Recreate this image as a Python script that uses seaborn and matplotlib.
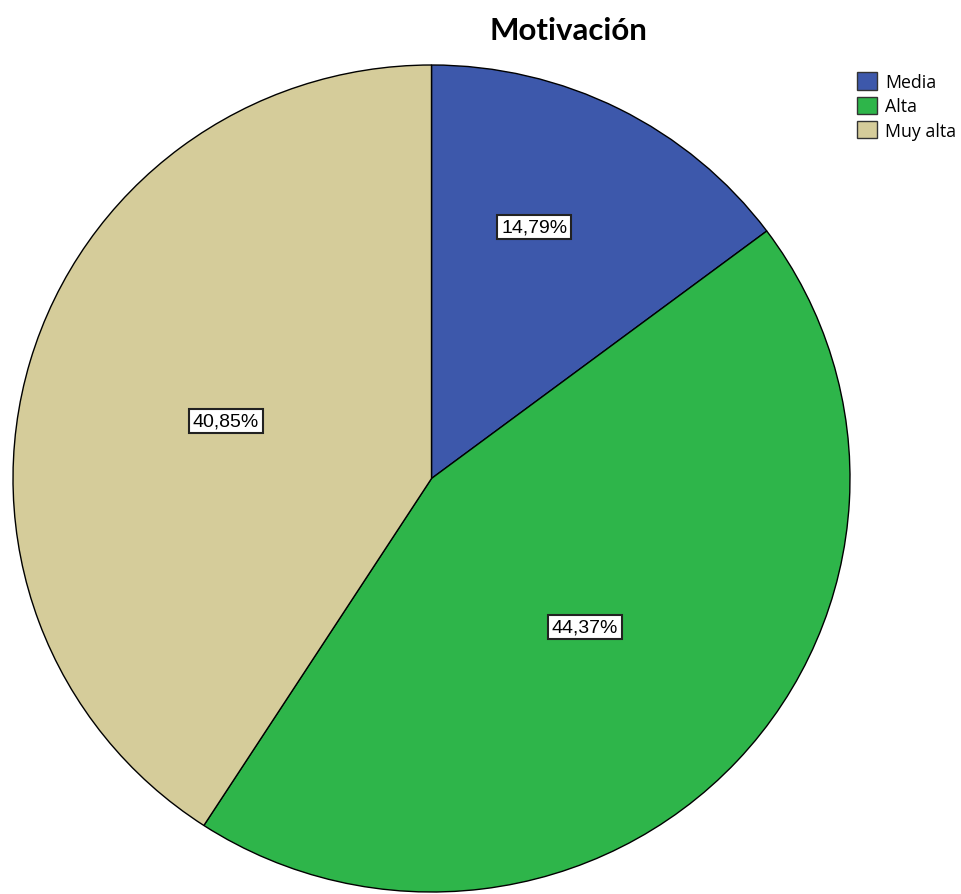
import matplotlib
matplotlib.use("Agg")
import matplotlib.pyplot as plt
import seaborn as sns
from matplotlib.patches import Patch

sns.set_style("white")
plt.rcParams['font.family'] = ['Liberation Sans', 'DejaVu Sans']
plt.rcParams['text.color'] = 'black'

categories = ["Media", "Alta", "Muy alta"]
values = [14.79, 44.37, 40.85]
labels = ["14,79%", "44,37%", "40,85%"]
colors = ["#3D58AB", "#2EB54A", "#D5CC9A"]
# label anchor positions in pie-radius units
label_pos = [(0.246, 0.608), (0.367, -0.359), (-0.492, 0.139)]

W, H = 962, 895
fig = plt.figure(figsize=(W / 100, H / 100), dpi=100)
left, right, top, bottom = 13, 850, 66, 893
ax = fig.add_axes([left / W, (H - bottom) / H, (right - left) / W, (bottom - top) / H])
wedges, _ = ax.pie(values, colors=colors, startangle=90, counterclock=False,
                   wedgeprops=dict(edgecolor="black", linewidth=1.0))
ax.set_aspect("auto")
ax.set_xlim(-1, 1)
ax.set_ylim(-1, 1)
ax.axis("off")

for (x, y), t in zip(label_pos, labels):
    ax.text(x, y, t, ha="center", va="center", fontsize=14, color="black",
            bbox=dict(boxstyle="square,pad=0.2", facecolor="white",
                      edgecolor="#222222", linewidth=1.5))

fig.text(568 / W, 1 - 31 / H, "Motivación", ha="center", va="center",
         fontsize=22.5, fontweight="bold", color="black",
         family=["Lato", "DejaVu Sans"])

handles = [Patch(facecolor=c, edgecolor="#333333", linewidth=1.0) for c in colors]
leg = fig.legend(handles, categories, loc="upper left",
                 bbox_to_anchor=(845 / W, 1 - 61 / H), frameon=False,
                 handlelength=1.1, handleheight=1.1,
                 handletextpad=0.45, labelspacing=0.32, borderpad=0.2,
                 prop=dict(family=["Open Sans", "DejaVu Sans"], size=12.8))
for t in leg.get_texts():
    t.set_color("black")

fig.savefig("out.png", dpi=100)
